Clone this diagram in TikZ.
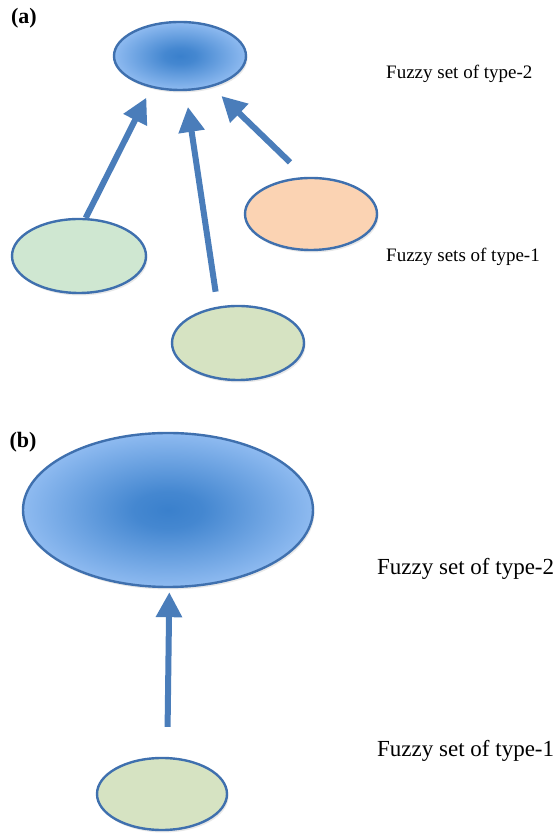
\documentclass[tikz,border=0pt]{standalone}
\usepackage{fontspec}
\setmainfont{Liberation Serif}
\usetikzlibrary{shapes.geometric,arrows.meta,shadows}
\definecolor{fzdark}{HTML}{3A80CC}
\definecolor{fzlight}{HTML}{92BDF2}
\definecolor{edgeblue}{HTML}{3F70AE}
\definecolor{arrowblue}{HTML}{4A7DBA}
\definecolor{mint}{HTML}{CFE7D1}
\definecolor{olive}{HTML}{D6E3C2}
\definecolor{peach}{HTML}{FBD3B3}
\pgfdeclareradialshading{fuzzy}{\pgfpoint{0bp}{0bp}}{color(0bp)=(fzdark); color(6bp)=(fzdark!88!fzlight); color(26bp)=(fzlight); color(50bp)=(fzlight)}
\tikzset{
  fset/.style={ellipse, draw=edgeblue, line width=2.4pt, inner sep=0pt,
    drop shadow={opacity=0.18, shadow xshift=1.5pt, shadow yshift=-2.5pt}},
  fuzzyfill/.style={shading=fuzzy},
  link/.style={draw=arrowblue, line width=6pt, -{Triangle[length=25pt,width=25pt]}},
  lbl/.style={anchor=west, inner sep=0pt, font=\fontsize{19}{22}\selectfont},
  lblb/.style={anchor=west, inner sep=0pt, font=\fontsize{23}{27}\selectfont},
  tag/.style={inner sep=0pt, font=\fontsize{22}{26}\selectfont\bfseries}
}
\begin{document}
\begin{tikzpicture}[x=1pt,y=1pt]
\useasboundingbox (0,0) rectangle (557,837);
% panel (a)
\node[tag] (taga) at (24,819) {(a)};
\node[fset, fuzzyfill, minimum width=132pt, minimum height=68pt] (top) at (180,781) {};
\node[fset, fill=mint, minimum width=134pt, minimum height=74pt] (g1) at (79,581) {};
\node[fset, fill=peach, minimum width=132pt, minimum height=72pt] (or) at (311,623) {};
\node[fset, fill=olive, minimum width=132pt, minimum height=74pt] (g2) at (238,494) {};
\draw[link, shorten >=11pt] (g1.80) -- (top.228);
\draw[link, shorten <=15pt, shorten >=16pt] (g2.119) -- (top.279);
\draw[link, shorten <=21pt, shorten >=13pt] (or.99) -- (top.316);
\node[lbl] (l2a) at (386,763) {Fuzzy set of type-2};
\node[lbl] (l1a) at (386,580) {Fuzzy sets of type-1};
% panel (b)
\node[tag] (tagb) at (23,395) {(b)};
\node[fset, fuzzyfill, minimum width=290pt, minimum height=154pt] (big) at (168,327) {};
\node[fset, fill=olive, minimum width=130pt, minimum height=72pt] (small) at (162,43) {};
\draw[link, shorten <=30pt, shorten >=4pt] (small.82) -- (big.271);
\node[lblb] (l2b) at (377,268) {Fuzzy set of type-2};
\node[lblb] (l1b) at (377,86) {Fuzzy set of type-1};
\end{tikzpicture}
\end{document}
